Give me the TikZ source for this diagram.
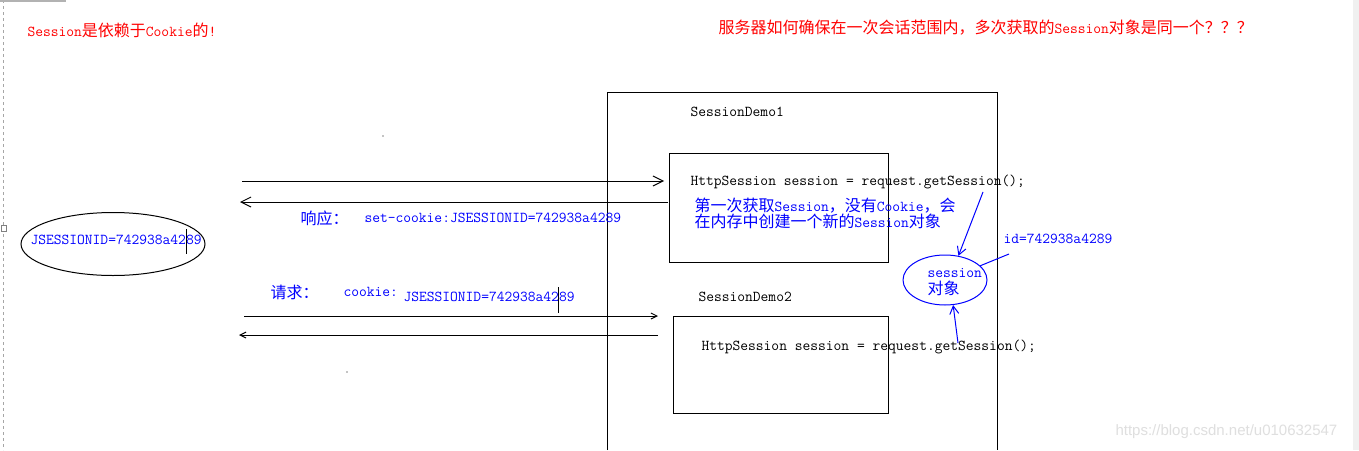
\documentclass[tikz,border=0pt]{standalone}
\usepackage{fontspec}
\newfontfamily\cjk{Noto Sans CJK SC}
\newfontfamily\wmfont{Liberation Sans}
\usetikzlibrary{arrows.meta,shapes.geometric}
\definecolor{myblue}{RGB}{0,0,255}
\definecolor{myred}{RGB}{255,0,0}
\newcommand\zh[1]{{\fontsize{16}{16}\selectfont\cjk #1}}
\tikzset{
  txt/.style={anchor=west, inner sep=0pt, font=\fontsize{15.1}{16}\selectfont\ttfamily},
  codebox/.style={draw, anchor=north west, inner sep=0pt},
  bigtip/.style={-{Straight Barb[length=10pt,width=10pt]}},
  smalltip/.style={-{Straight Barb[length=6pt,width=6pt]}},
  bluetip/.style={myblue, -{Straight Barb[length=8pt,width=9pt]}},
}
\begin{document}
\begin{tikzpicture}[x=1pt,y=-1pt,line width=1pt]
\useasboundingbox (0,0) rectangle (1359,450);
\fill[white] (0,0) rectangle (1359,450);
% editor artifacts
\draw[gray!70, dashed, line width=0.8pt] (3,0) -- (3,450);
\draw[gray!60, line width=1.5pt] (0,0.75) -- (66,0.75);
\filldraw[fill=white, draw=gray, line width=0.6pt] (1,225) rectangle (6,231);
\fill[gray!12] (1353,0) rectangle (1359,450);
% titles
\node[txt, text=myred] (t1) at (27,30) {Session\zh{是依赖于}Cookie\zh{的}!};
\node[txt, text=myred] (t2) at (718,28) {\zh{服务器如何确保在一次会话范围内，多次获取的}Session\zh{对象是同一个？？？}};
% server frame
\draw (607,450) -- (607,92) -- (997,92) -- (997,450);
\node[txt] (d1) at (690,112) {SessionDemo1};
\node[codebox, minimum width=219, minimum height=109] (box1) at (669,153) {};
\node[txt] (c1) at (690,182) {HttpSession session = request.getSession();};
\node[txt, text=myblue] (n1) at (694,206) {\zh{第一次获取}Session\zh{，没有}Cookie\zh{，会}};
\node[txt, text=myblue] (n2) at (694,221) {\zh{在内存中创建一个新的}Session\zh{对象}};
\node[txt] (d2) at (698,297) {SessionDemo2};
\node[codebox, minimum width=215, minimum height=97] (box2) at (673,316) {};
\node[txt] (c2) at (701,347) {HttpSession session = request.getSession();};
% session object
\node[ellipse, draw=myblue, minimum width=84, minimum height=50, inner sep=0pt] (sess) at (945,280) {};
\node[txt, text=myblue] (s1) at (927,273) {session};
\node[txt, text=myblue] (s2) at (927,288) {\zh{对象}};
\node[txt, text=myblue] (idl) at (1003,239) {id=742938a4289};
% browser cookie
\node[ellipse, draw, minimum width=184, minimum height=63, inner sep=0pt] (ck) at (113,244) {};
\node[txt, text=myblue] (ckt) at (30,240) {JSESSIONID=742938a4289};
\draw (186,229) -- (186,254);
% labels
\node[txt, text=myblue] (resp) at (300,218) {\zh{响应：}};
\node[txt, text=myblue] (sc) at (364,218) {set-cookie:JSESSIONID=742938a4289};
\node[txt, text=myblue] (req) at (270,292) {\zh{请求：}};
\node[txt, text=myblue] (ckl) at (343,292) {cookie:};
\node[txt, text=myblue] (jid2) at (403,297) {JSESSIONID=742938a4289};
\draw (558,287) -- (558,313);
% arrows
\coordinate (a1s) at (242,181); \coordinate (a1e) at (664,181);
\coordinate (a2s) at (668,202); \coordinate (a2e) at (240,202);
\coordinate (a3s) at (244,316); \coordinate (a3e) at (658,316);
\coordinate (a4s) at (658,335); \coordinate (a4e) at (239,335);
\draw[bigtip] (a1s) -- (a1e);
\draw[bigtip] (a2s) -- (a2e);
\draw[smalltip] (a3s) -- (a3e);
\draw[smalltip] (a4s) -- (a4e);
\coordinate (g1) at (983,192);
\coordinate (g2) at (958,343);
\coordinate (idp) at (1009,254);
\draw[bluetip] (g1) -- (sess.61);
\draw[bluetip] (g2) -- (sess.288);
\draw[myblue] (idp) -- (sess.22);
% stray dots
\fill (383,136) circle (0.7);
\fill (347,372) circle (0.7);
% watermark
\node[anchor=west, inner sep=0pt, font=\wmfont\fontsize{15}{16}\selectfont, text=gray!25] (wm) at (1115,432) {https://blog.csdn.net/u010632547};
\end{tikzpicture}
\end{document}
